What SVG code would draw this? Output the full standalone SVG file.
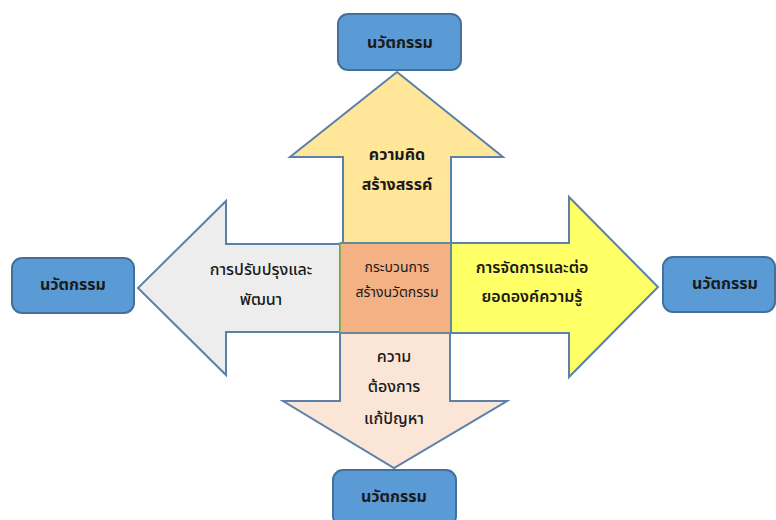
<svg xmlns="http://www.w3.org/2000/svg" width="776" height="520" viewBox="0 0 776 520">
  <style>
    .arrow { stroke: #5b81aa; stroke-width: 2; stroke-linejoin: miter; }
    .box rect { fill: #5b9bd5; stroke: #41719c; stroke-width: 2; }
    text { font-family: "Noto Sans Thai", Tahoma, "Noto Sans", "DejaVu Sans", sans-serif; text-anchor: middle; fill: #1a1a1a; }
    .lbl { font-size: 16px; }
    .w4 { font-weight: normal; }
    .w5 { font-weight: 500; }
    .w6 { font-weight: 600; }
    .w7 { font-weight: bold; }
    .boxlbl { font-size: 16px; font-weight: bold; }
    .small { font-size: 14px; }
  </style>
  <rect width="776" height="520" fill="#ffffff"/>

  <!-- arrows radiating from the central square -->
  <g id="connectors">
    <polygon id="arrow-up" class="arrow" fill="#ffe699" points="343,243 343,157 290,157 397,72 503,157 451,157 451,243"/>
    <polygon id="arrow-left" class="arrow" fill="#ededed" points="340,244 226,244 226,201 138,288 226,375 226,332 340,332"/>
    <polygon id="arrow-right" class="arrow" fill="#ffff66" points="451,243 569,243 569,197 658,287 569,377 569,333 451,333"/>
    <polygon id="arrow-down" class="arrow" fill="#fbe5d6" points="340,333 340,401 283,401 394,468 507,401 450,401 450,333"/>
  </g>

  <!-- central process square -->
  <g id="center">
    <rect x="340" y="243" width="111" height="90" fill="#f4b183" stroke="#70ad47" stroke-width="1.5"/>
    <path d="M340,243 H451 V333 H340" fill="none" stroke="#5b81aa" stroke-width="1.5"/>
    <text class="small" x="397" y="272">กระบวนการ</text>
    <text class="small" x="397" y="297">สร้างนวัตกรรม</text>
  </g>

  <!-- arrow labels -->
  <g id="label-up">
    <text class="lbl w7" x="397" y="160">ความคิด</text>
    <text class="lbl w7" x="397" y="190">สร้างสรรค์</text>
  </g>
  <g id="label-left">
    <text class="lbl w5" x="261" y="275">การปรับปรุงและ</text>
    <text class="lbl w5" x="261" y="305">พัฒนา</text>
  </g>
  <g id="label-right">
    <text class="lbl w6" x="532" y="273">การจัดการและต่อ</text>
    <text class="lbl w6" x="532" y="302">ยอดองค์ความรู้</text>
  </g>
  <g id="label-down">
    <text class="lbl w5" x="394" y="362">ความ</text>
    <text class="lbl w5" x="394" y="392">ต้องการ</text>
    <text class="lbl w5" x="394" y="424">แก้ปัญหา</text>
  </g>

  <!-- outcome boxes -->
  <g id="box-top" class="box">
    <rect x="338" y="14" width="123" height="56" rx="10"/>
    <text class="boxlbl" x="400" y="48">นวัตกรรม</text>
  </g>
  <g id="box-left" class="box">
    <rect x="12" y="258" width="122" height="55" rx="10"/>
    <text class="boxlbl" x="73" y="290">นวัตกรรม</text>
  </g>
  <g id="box-right" class="box">
    <rect x="663" y="257" width="112" height="55" rx="10"/>
    <text class="boxlbl" x="725" y="289">นวัตกรรม</text>
  </g>
  <g id="box-bottom" class="box">
    <rect x="333" y="470" width="123" height="56" rx="10"/>
    <text class="boxlbl" x="394" y="502">นวัตกรรม</text>
  </g>
</svg>
